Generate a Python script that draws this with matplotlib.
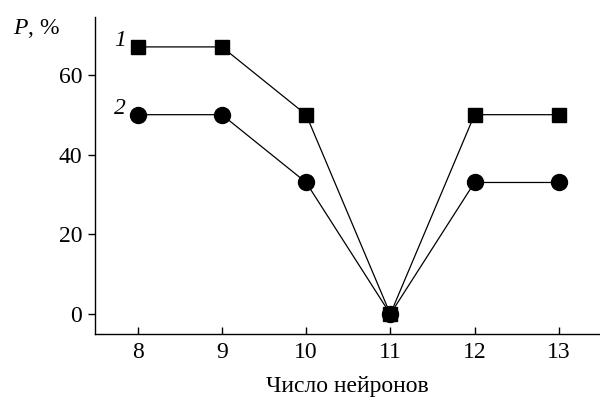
import matplotlib
matplotlib.use("Agg")
import matplotlib.pyplot as plt

x = [8, 9, 10, 11, 12, 13]
series1 = [67, 67, 50, 0, 50, 50]
series2 = [50, 50, 33, 0, 33, 33]
xticks = [8, 9, 10, 11, 12, 13]
yticks = [0, 20, 40, 60]

plt.rcParams['font.family'] = ['Liberation Serif', 'DejaVu Serif']
plt.rcParams['mathtext.fontset'] = 'custom'
plt.rcParams['mathtext.rm'] = 'Liberation Serif'
plt.rcParams['mathtext.it'] = 'Liberation Serif:italic'

fig = plt.figure(figsize=(6, 4), dpi=100)
ax = fig.add_axes([0.158, 0.165, 0.842, 0.7925])

ax.plot(x, series1, color='black', lw=0.9, marker='s', markersize=10.5, zorder=3)
ax.plot(x, series2, color='black', lw=0.9, marker='o', markersize=11.5, zorder=3)

ax.set_xlim(7.49, 13.49)
ax.set_ylim(-5, 74.5)
ax.set_xticks(xticks)
ax.set_yticks(yticks)
ax.tick_params(axis='x', direction='in', length=5, width=1, labelsize=17, pad=6)
ax.tick_params(axis='y', direction='out', length=5, width=1, labelsize=17, pad=4)
for s in ['top', 'right']:
    ax.spines[s].set_visible(False)
for s in ['left', 'bottom']:
    ax.spines[s].set_linewidth(1)

ax.set_xlabel('Число нейронов', fontsize=17, labelpad=9)
fig.text(0.022, 0.915, '$P$, %', fontsize=17, ha='left', va='baseline')
ax.text(7.86, 68.5, '1', fontsize=17, style='italic', ha='right', va='center')
ax.text(7.86, 51.5, '2', fontsize=17, style='italic', ha='right', va='center')

fig.savefig('out.png', dpi=100)
